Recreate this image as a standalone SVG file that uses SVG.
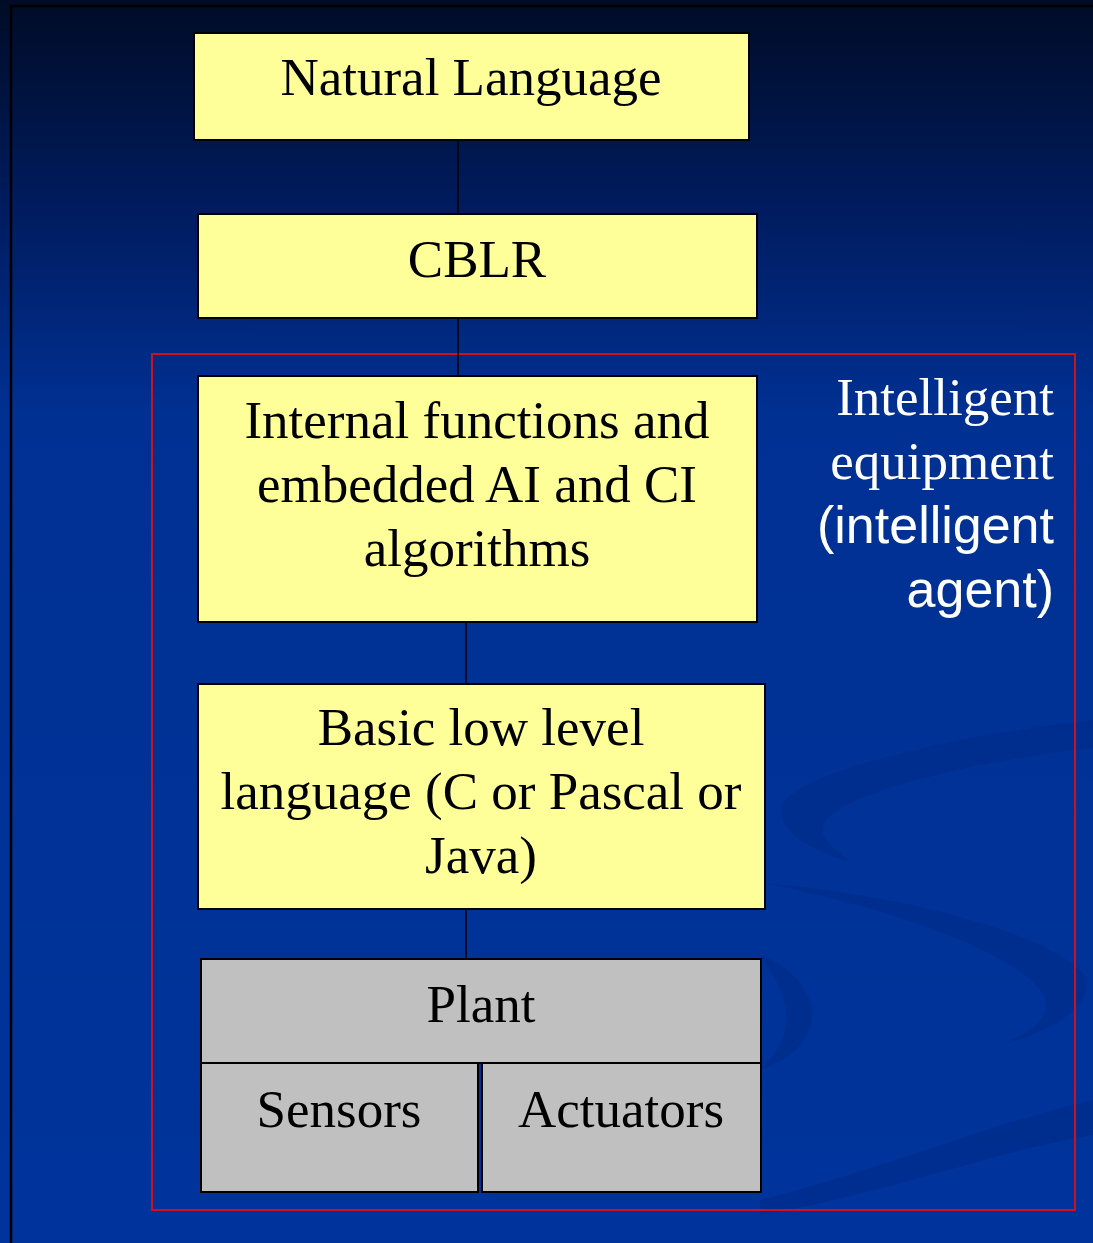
<svg xmlns="http://www.w3.org/2000/svg" width="1093" height="1243" viewBox="0 0 1093 1243">
<defs>
<linearGradient id="bg" x1="0" y1="0" x2="0" y2="1">
<stop offset="0" stop-color="#000c26"/>
<stop offset="0.17" stop-color="#001c60"/>
<stop offset="0.33" stop-color="#003092"/>
<stop offset="1" stop-color="#00349c"/>
</linearGradient>
</defs>
<style>
.box{stroke:#000;stroke-width:2}
.yel{fill:#ffff99}
.gry{fill:#c0c0c0}
.t{font-family:"Liberation Serif","Times New Roman",serif;font-size:53px;fill:#000;text-anchor:middle}
.w{font-family:"Liberation Serif","Times New Roman",serif;font-size:53px;fill:#fff;text-anchor:end}
.ws{font-family:"Liberation Sans",Arial,sans-serif;font-size:52px;fill:#fff;text-anchor:end}
.sw{fill:#002c88;opacity:0.6}
#connectors line{stroke:#000;stroke-width:1.5}
</style>
<rect width="1093" height="1243" fill="url(#bg)"/>
<g id="swirls">
<path class="sw" d="M1093,720 C960,735 800,770 782,805 C775,830 810,850 850,862 C830,845 815,835 826,820 C850,790 980,760 1093,748 Z"/>
<path class="sw" d="M763,883 C900,895 1040,930 1082,972 C1100,1000 1060,1030 1000,1045 C1040,1030 1055,1010 1040,990 C1010,950 880,905 763,883 Z"/>
<path class="sw" d="M760,1200 C880,1170 1000,1120 1093,1100 L1093,1135 C1000,1150 880,1195 760,1215 Z"/>
<path class="sw" d="M760,955 C790,965 810,990 812,1010 C815,1040 790,1060 760,1070 C780,1050 790,1030 785,1005 C780,985 770,970 760,955 Z"/>
</g>
<path d="M11,1243 V6 H1093" fill="none" stroke="#000" stroke-width="2.5"/>
<rect x="152" y="354" width="923" height="856" fill="none" stroke="#d0101c" stroke-width="2"/>
<g id="connectors">
<line x1="458" y1="137" x2="458" y2="214"/>
<line x1="458" y1="318" x2="458" y2="376"/>
<line x1="466" y1="622" x2="466" y2="684"/>
<line x1="466" y1="909" x2="466" y2="959"/>
</g>
<g id="natural-language">
<rect class="box yel" x="194" y="33" width="555" height="107"/>
<text class="t" x="471" y="95">Natural Language</text>
</g>
<g id="cblr">
<rect class="box yel" x="198" y="214" width="559" height="104"/>
<text class="t" x="477" y="277">CBLR</text>
</g>
<g id="internal-functions">
<rect class="box yel" x="198" y="376" width="559" height="246"/>
<text class="t" x="477" y="438">Internal functions and</text>
<text class="t" x="477" y="502">embedded AI and CI</text>
<text class="t" x="477" y="566">algorithms</text>
</g>
<g id="basic-language">
<rect class="box yel" x="198" y="684" width="567" height="225"/>
<text class="t" x="481" y="745">Basic low level</text>
<text class="t" x="481" y="809">language (C or Pascal or</text>
<text class="t" x="481" y="873">Java)</text>
</g>
<g id="plant">
<rect class="box gry" x="201" y="959" width="560" height="104"/>
<text class="t" x="481" y="1022">Plant</text>
</g>
<g id="sensors">
<rect class="box gry" x="201" y="1063" width="277" height="129"/>
<text class="t" x="339" y="1127">Sensors</text>
</g>
<g id="actuators">
<rect class="box gry" x="482" y="1063" width="279" height="129"/>
<text class="t" x="621" y="1127">Actuators</text>
</g>
<g id="label">
<text class="w" x="1054" y="415">Intelligent</text>
<text class="w" x="1054" y="479">equipment</text>
<text class="ws" x="1054" y="543">(intelligent</text>
<text class="ws" x="1054" y="607">agent)</text>
</g>
</svg>
